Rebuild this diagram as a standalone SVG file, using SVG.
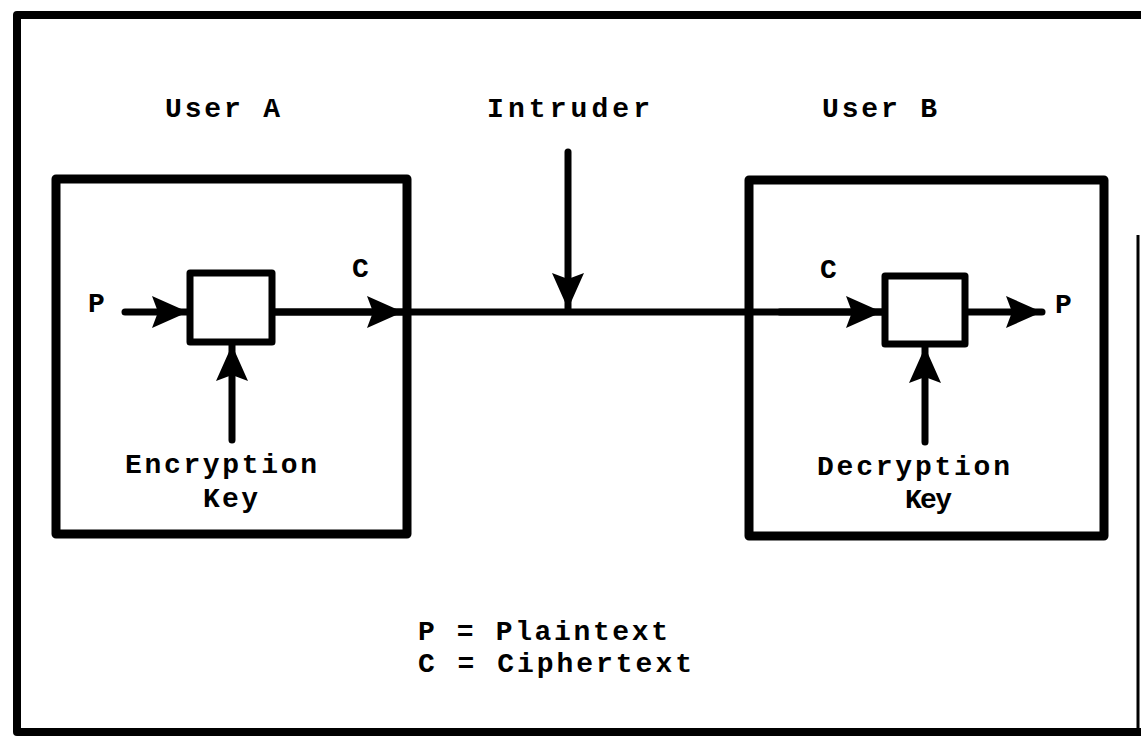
<svg xmlns="http://www.w3.org/2000/svg" width="1141" height="738" viewBox="0 0 1141 738">
<style>
.t{font-family:"Liberation Mono","DejaVu Sans Mono",monospace;font-weight:bold;font-size:28px;fill:#000}
.frame{fill:none;stroke:#000;stroke-width:9;stroke-linejoin:round}
.box{fill:#fff;stroke:#000;stroke-width:7;stroke-linejoin:round}
.ln{stroke:#000;stroke-width:7;stroke-linecap:round;fill:none}
</style>
<defs>
<marker id="ah" markerUnits="userSpaceOnUse" markerWidth="40" markerHeight="36" refX="36" refY="17" orient="auto">
<path d="M0,1 L36,17 L0,33 L6,17 Z" fill="#000"/>
</marker>
</defs>
<rect width="1141" height="738" fill="#fff"/>
<g id="outer-frame">
<path d="M1141,15 L17,15 L17,732 L1141,732" fill="none" stroke="#000" stroke-width="8" stroke-linejoin="round"/>
<line x1="1138" y1="235" x2="1138" y2="732" stroke="#000" stroke-width="3"/>
</g>
<g id="userA">
<rect class="frame" x="56" y="179" width="351" height="355"/>
<text class="t" x="165" y="117" textLength="115" lengthAdjust="spacing">User A</text>
</g>
<g id="userB">
<rect class="frame" x="749" y="180" width="355" height="356"/>
<text class="t" x="822" y="117" textLength="115" lengthAdjust="spacing">User B</text>
</g>
<g id="intruder">
<text class="t" x="487" y="117" textLength="163" lengthAdjust="spacing">Intruder</text>
</g>
<g id="connectors">
<line class="ln" x1="275" y1="312" x2="882" y2="312"/>
<line class="ln" x1="275" y1="312" x2="403" y2="312" marker-end="url(#ah)"/>
<line class="ln" x1="125" y1="312" x2="188" y2="312" marker-end="url(#ah)"/>
<line class="ln" x1="232" y1="440" x2="232" y2="345" marker-end="url(#ah)"/>
<line class="ln" x1="568" y1="152" x2="568" y2="309" marker-end="url(#ah)"/>
<line class="ln" x1="780" y1="312" x2="882" y2="312" marker-end="url(#ah)"/>
<line class="ln" x1="968" y1="312" x2="1042" y2="312" marker-end="url(#ah)"/>
<line class="ln" x1="925" y1="442" x2="925" y2="347" marker-end="url(#ah)"/>
</g>
<g id="encrypt">
<rect class="box" x="190" y="273" width="82" height="69"/>
</g>
<g id="decrypt">
<rect class="box" x="885" y="276" width="80" height="68"/>
</g>
<g id="labels">
<text class="t" x="88" y="312">P</text>
<text class="t" x="352" y="277">C</text>
<text class="t" x="125" y="473" textLength="192" lengthAdjust="spacing">Encryption</text>
<text class="t" x="203" y="507" textLength="55" lengthAdjust="spacing">Key</text>
<text class="t" x="820" y="278">C</text>
<text class="t" x="1055" y="313">P</text>
<text class="t" x="817" y="475" textLength="193" lengthAdjust="spacing">Decryption</text>
<text class="t" x="905" y="508" textLength="47" lengthAdjust="spacing">Key</text>
</g>
<g id="legend">
<text class="t" x="418" y="640" textLength="250" lengthAdjust="spacing">P = Plaintext</text>
<text class="t" x="418" y="672" textLength="274" lengthAdjust="spacing">C = Ciphertext</text>
</g>
</svg>
